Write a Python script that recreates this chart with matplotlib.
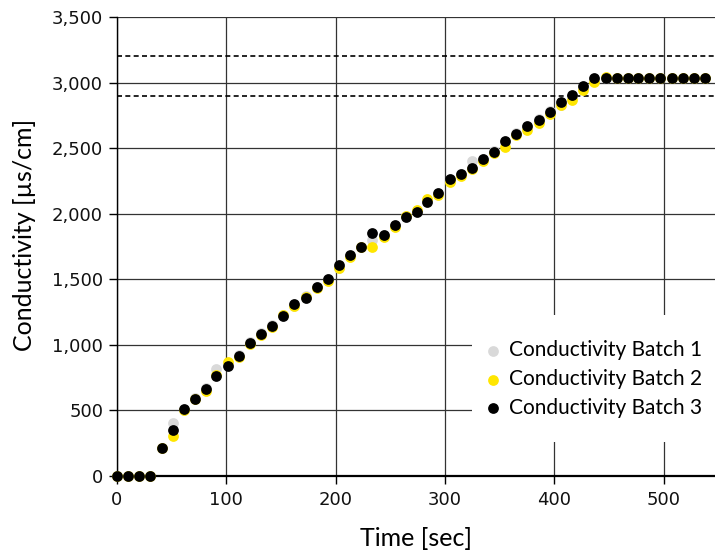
import matplotlib.pyplot as plt
from matplotlib.patches import Rectangle
from matplotlib.ticker import FuncFormatter, MultipleLocator

plt.rcParams['font.family'] = ['Lato', 'DejaVu Sans']

# sample times in seconds (logger interval is a little over 10 s)
time_sec = [0, 10, 20, 30, 41, 51, 61, 71, 81, 91,
            102, 112, 122, 132, 142, 152, 162, 173, 183, 193,
            203, 213, 223, 233, 244, 254, 264, 274, 284, 294,
            305, 315, 325, 335, 345, 355, 365, 375, 386, 396,
            406, 416, 426, 436, 447, 457, 467, 477, 487, 497,
            508, 518, 528, 538]

batch1 = [0, 0, 0, 0, 215, 405, 500, 595, 670, 815,
          845, 920, 1020, 1090, 1150, 1225, 1300, 1370, 1445, 1500,
          1590, 1680, 1745, 1800, 1835, 1910, 1985, 2020, 2095, 2150,
          2250, 2300, 2400, 2415, 2475, 2545, 2615, 2660, 2720, 2780,
          2830, 2890, 2965, 3030, 3035, 3035, 3035, 3035, 3035, 3035,
          3035, 3035, 3035, 3035]

batch2 = [0, 0, 0, 0, 210, 305, 505, 585, 650, 770,
          870, 910, 1005, 1075, 1135, 1230, 1300, 1365, 1430, 1490,
          1590, 1670, 1745, 1745, 1820, 1900, 1980, 2030, 2110, 2140,
          2240, 2285, 2340, 2400, 2460, 2510, 2600, 2635, 2690, 2760,
          2830, 2865, 2945, 3005, 3040, 3035, 3035, 3035, 3035, 3035,
          3035, 3035, 3035, 3035]

batch3 = [0, 0, 0, 0, 210, 350, 510, 590, 660, 760,
          840, 915, 1015, 1080, 1145, 1220, 1310, 1360, 1440, 1505,
          1610, 1685, 1750, 1850, 1840, 1915, 1975, 2015, 2090, 2160,
          2265, 2300, 2350, 2420, 2470, 2555, 2610, 2670, 2715, 2775,
          2850, 2905, 2975, 3035, 3035, 3035, 3035, 3035, 3035, 3035,
          3035, 3035, 3035, 3035]

spec_limits = [2900, 3200]

series = [
    ('Conductivity Batch 1', batch1, '#d9d9d9'),
    ('Conductivity Batch 2', batch2, '#ffe600'),
    ('Conductivity Batch 3', batch3, '#000000'),
]

fig = plt.figure(figsize=(7.15, 5.57), dpi=100)
ax = fig.add_axes([0.1636, 0.1454, 0.8364, 0.824])

for label, values, color in series:
    ax.scatter(time_sec, values, s=60, color=color, label=label,
               zorder=3, clip_on=False, linewidths=0)

for lim in spec_limits:
    ax.axhline(lim, color='black', linestyle=(0, (3, 2)), linewidth=1.2, zorder=2)

ax.set_xlim(0, 547)
ax.set_ylim(0, 3500)
ax.xaxis.set_major_locator(MultipleLocator(100))
ax.yaxis.set_major_locator(MultipleLocator(500))
ax.yaxis.set_major_formatter(FuncFormatter(lambda v, p: f'{int(v):,}'))

ax.grid(True, color='#333333', linewidth=0.9, zorder=1)
ax.set_axisbelow(True)
for side in ['top', 'right']:
    ax.spines[side].set_visible(False)
ax.spines['left'].set_linewidth(1.0)
ax.spines['bottom'].set_linewidth(1.6)
ax.tick_params(direction='out', length=6, width=1, colors='black', pad=4)
ax.tick_params(axis='x', pad=5)
for lbl in ax.get_xticklabels() + ax.get_yticklabels():
    lbl.set_family(['DejaVu Sans'])
    lbl.set_fontsize(13)
    lbl.set_color('#111111')

ax.set_xlabel('Time [sec]', fontsize=18, labelpad=13)
ax.set_ylabel('Conductivity [µs/cm]', fontsize=18)
ax.yaxis.set_label_coords(-0.135, 0.525)

# white panel behind the legend hides the grid there
ax.add_patch(Rectangle((0.594, 0.074), 0.406, 0.277, transform=ax.transAxes,
                       facecolor='white', edgecolor='none', zorder=4))

leg = ax.legend(loc='lower left', bbox_to_anchor=(0.612, 0.127), fontsize=15,
                frameon=False, handlelength=1.0, handletextpad=0.25,
                borderpad=0.0, labelspacing=0.42, borderaxespad=0.0)
leg.set_zorder(5)

fig.savefig('out.png', dpi=100)
